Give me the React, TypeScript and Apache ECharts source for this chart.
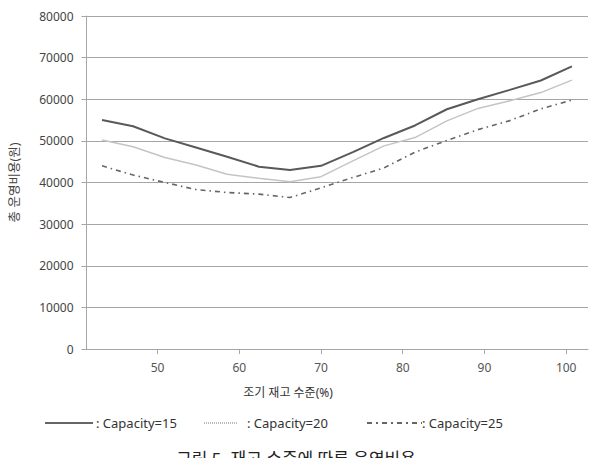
import React, { useEffect, useRef } from "react";
import * as echarts from "echarts";

const xValues = [43.2, 47.0, 50.9, 54.7, 58.5, 62.4, 66.2, 70.0, 73.9, 77.7, 81.5, 85.4, 89.2, 93.0, 96.9, 100.7];
const cap15 = [55000, 53500, 50600, 48400, 46200, 43800, 43000, 44000, 47300, 50700, 53700, 57600, 60000, 62200, 64500, 67900];
const cap20 = [50200, 48600, 46000, 44200, 42000, 41000, 40200, 41400, 45200, 48800, 50800, 54800, 57800, 59600, 61600, 64600];
const cap25 = [44000, 41800, 40000, 38300, 37600, 37200, 36400, 38700, 41200, 43500, 47300, 50100, 52700, 54800, 57700, 59800];
const xTicks = [50, 60, 70, 80, 90, 100];
const seriesNames = [": Capacity=15", ": Capacity=20", ": Capacity=25"];
const yAxisName = "총 운영비용(원)";
const xAxisName = "조기 재고 수준(%)";
const caption = "그림 5. 재고 수준에 따른 운영비용";

const FONT = "'Noto Sans', 'Noto Sans CJK KR', sans-serif";

export default function App() {
  const ref = useRef<HTMLDivElement>(null);
  useEffect(() => {
    document.body.style.margin = "0";
    const chart = echarts.init(ref.current!, null, { renderer: "svg" });
    const pair = (ys: number[]) => xValues.map((x, i) => [x, ys[i]]);
    const gridColor = "#a6a6a6";
    chart.setOption({
      animation: false,
      backgroundColor: "#ffffff",
      textStyle: { fontFamily: FONT },
      grid: { left: 81, right: 7, top: 16, bottom: 109, containLabel: false },
      xAxis: {
        type: "value",
        min: 41.3,
        max: 102.67,
        axisLine: { show: true, lineStyle: { color: gridColor, width: 1 } },
        axisTick: { show: true, length: 5, customValues: xTicks, lineStyle: { color: gridColor } },
        axisLabel: { customValues: xTicks, margin: 12, fontSize: 12, color: "#555", fontFamily: FONT },
        splitLine: { show: false },
      },
      yAxis: {
        type: "value",
        min: 0,
        max: 80000,
        interval: 10000,
        name: yAxisName,
        nameLocation: "middle",
        nameGap: 66,
        nameRotate: 90,
        nameTextStyle: { fontSize: 12.5, color: "#444", fontFamily: FONT },
        axisLine: { show: true, lineStyle: { color: gridColor, width: 1 } },
        axisTick: { show: true, length: 5, lineStyle: { color: gridColor } },
        axisLabel: {
          margin: 13,
          fontSize: 12,
          color: "#444",
          fontFamily: FONT,
          formatter: (v: number) => String(v),
        },
        splitLine: { show: true, lineStyle: { color: gridColor, width: 1 } },
      },
      series: [
        {
          name: seriesNames[0],
          type: "line",
          data: pair(cap15),
          showSymbol: false,
          lineStyle: { color: "#595959", width: 2 },
        },
        {
          name: seriesNames[1],
          type: "line",
          data: pair(cap20),
          showSymbol: false,
          lineStyle: { color: "#c4c4c4", width: 1.5 },
        },
        {
          name: seriesNames[2],
          type: "line",
          data: pair(cap25),
          showSymbol: false,
          lineStyle: { color: "#666666", width: 1.6, type: [5, 4, 1.5, 4] },
        },
      ],
      graphic: [
        {
          type: "text",
          x: 288,
          y: 392,
          style: { text: xAxisName, fontSize: 12, fill: "#333", fontFamily: FONT, textAlign: "center", textVerticalAlign: "middle" },
        },
        { type: "line", shape: { x1: 45, y1: 423, x2: 93, y2: 423 }, style: { stroke: "#333", lineWidth: 1.6 } },
        {
          type: "text",
          x: 96,
          y: 423,
          style: { text: seriesNames[0], fontSize: 13, fill: "#333", fontFamily: FONT, textVerticalAlign: "middle" },
        },
        { type: "line", shape: { x1: 204, y1: 423, x2: 237, y2: 423 }, style: { stroke: "#777", lineWidth: 1, lineDash: [1, 1] } },
        {
          type: "text",
          x: 247,
          y: 423,
          style: { text: seriesNames[1], fontSize: 13, fill: "#333", fontFamily: FONT, textVerticalAlign: "middle" },
        },
        { type: "line", shape: { x1: 367, y1: 423, x2: 422, y2: 423 }, style: { stroke: "#333", lineWidth: 1.6, lineDash: [5, 4, 2, 4] } },
        {
          type: "text",
          x: 422,
          y: 423,
          style: { text: seriesNames[2], fontSize: 13, fill: "#333", fontFamily: FONT, textVerticalAlign: "middle" },
        },
        {
          type: "text",
          x: 296,
          y: 450,
          style: { text: caption, fontSize: 17, fill: "#222", fontFamily: FONT, textAlign: "center", textVerticalAlign: "top" },
        },
      ],
    });
    return () => chart.dispose();
  }, []);
  return <div ref={ref} style={{ width: 595, height: 458 }} />;
}
